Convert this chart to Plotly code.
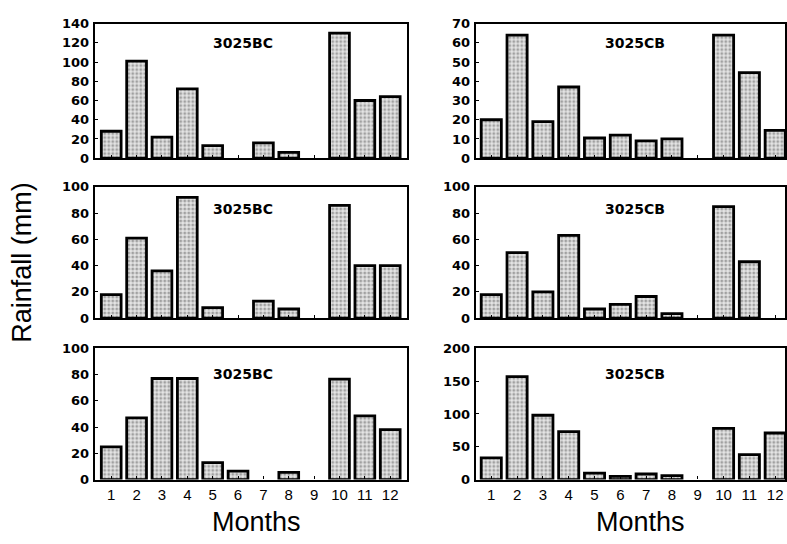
import plotly.graph_objects as go

months = list(range(1, 13))
month_labels = [str(m) for m in months]

bc_top = [28, 101, 22, 72, 13, 0, 16, 6, 0, 130, 60, 64]
cb_top = [20, 64, 19, 37, 10.5, 12, 9, 10, 0, 64, 44.5, 14.5]
bc_mid = [18, 61, 36, 92, 8, 0, 13, 7, 0, 86, 40, 40]
cb_mid = [18, 50, 20, 63, 7, 10.5, 16.5, 3.5, 0, 85, 43, 0]
bc_bot = [25, 47, 77, 77, 13, 6.5, 0, 5.5, 0, 76.5, 48.5, 38]
cb_bot = [33, 157, 98, 73, 10, 5, 8.5, 6, 0, 78, 38, 71]

station_left = "3025BC"
station_right = "3025CB"

panels = [
    (bc_top, station_left, [0, 140], 20),
    (cb_top, station_right, [0, 70], 10),
    (bc_mid, station_left, [0, 100], 20),
    (cb_mid, station_right, [0, 100], 20),
    (bc_bot, station_left, [0, 100], 20),
    (cb_bot, station_right, [0, 200], 50),
]

W, H = 787, 544
left_dom = [95 / W, 408 / W]
right_dom = [477 / W, 1.0]
left_range = [0.351, 12.66]
right_range = [0.40, 12.38]
rows_px = [(17, 155.5), (185, 320), (351, 486)]
label_y = [0.855, 0.83, 0.807]

fig = go.Figure()
layout = dict(
    width=W, height=H,
    margin=dict(l=0, r=0, t=0, b=0),
    paper_bgcolor="white", plot_bgcolor="white",
    showlegend=False,
    annotations=[],
)

tickfont_y = dict(family="DejaVu Sans", size=13, color="black", weight="bold")
tickfont_x = dict(family="Liberation Sans, Arial", size=15, color="black")

for i, (vals, name, yr, dt) in enumerate(panels):
    k = i + 1
    xa = "x" if k == 1 else f"x{k}"
    ya = "y" if k == 1 else f"y{k}"
    col = i % 2
    row = i // 2
    shown = [v if v > 0 else None for v in vals]
    fig.add_trace(go.Bar(
        x=months, y=shown, xaxis=xa, yaxis=ya, width=0.78,
        marker=dict(
            color="#e0e0e0",
            line=dict(color="black", width=2.8),
            pattern=dict(shape=".", fgcolor="#5a5a5a", bgcolor="#e6e6e6",
                         size=4, solidity=0.45),
        ),
        hoverinfo="skip",
    ))
    top, bot = rows_px[row]
    ydom = [1 - bot / H, 1 - top / H]
    xdom = left_dom if col == 0 else right_dom
    xr = left_range if col == 0 else right_range
    layout["xaxis" if k == 1 else f"xaxis{k}"] = dict(
        domain=xdom, range=xr, anchor=ya,
        tickmode="array", tickvals=months, ticktext=month_labels,
        showticklabels=(row == 2), tickfont=tickfont_x,
        ticks="inside", ticklen=3, tickcolor="black",
        showline=True, linecolor="black", linewidth=2.2, mirror=True,
        showgrid=False, zeroline=False,
    )
    layout["yaxis" if k == 1 else f"yaxis{k}"] = dict(
        domain=ydom, range=yr, anchor=xa, dtick=dt, tick0=0,
        tickfont=tickfont_y, ticks="inside", ticklen=3, tickcolor="black",
        showline=True, linecolor="black", linewidth=2.2, mirror=True,
        showgrid=False, zeroline=False, ticklabelstandoff=1,
    )
    layout["annotations"].append(dict(
        text=name, xref=f"{xa} domain", yref=f"{ya} domain",
        x=0.476 if col == 0 else 0.516, y=label_y[row],
        showarrow=False, xanchor="center", yanchor="middle",
        font=dict(family="DejaVu Sans", size=14, color="black", weight="bold"),
    ))

for cx in (257, 642):
    layout["annotations"].append(dict(
        text="Months", xref="paper", yref="paper",
        x=cx / W, y=1 - 530 / H, showarrow=False,
        xanchor="center", yanchor="middle",
        font=dict(family="Liberation Sans, Arial", size=27, color="black"),
    ))
layout["annotations"].append(dict(
    text="Rainfall (mm)", xref="paper", yref="paper",
    x=22 / W, y=1 - 262 / H, showarrow=False, textangle=-90,
    xanchor="center", yanchor="middle",
    font=dict(family="Liberation Sans, Arial", size=27, color="black"),
))

fig.update_layout(**layout)
fig.write_html("out.html")
